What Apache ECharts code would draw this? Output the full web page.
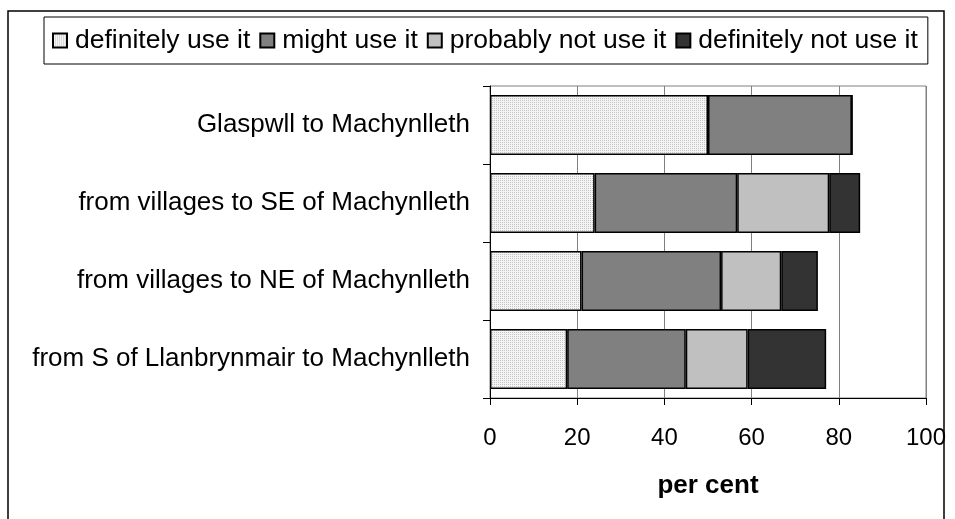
<!DOCTYPE html>
<html>
<head>
<meta charset="utf-8">
<script src="https://cdn.jsdelivr.net/npm/echarts@6/dist/echarts.min.js"></script>
<style>
html,body{margin:0;padding:0;background:#fff;}
#container{width:955px;height:519px;}
</style>
</head>
<body>
<div id="container"></div>
<script>
var routes = ['Glaspwll to Machynlleth', 'from villages to SE of Machynlleth', 'from villages to NE of Machynlleth', 'from S of Llanbrynmair to Machynlleth'];
var seriesNames = ['definitely use it', 'might use it', 'probably not use it', 'definitely not use it'];
var definitelyUse = [50, 24, 21, 17.7];
var mightUse = [33, 32.7, 32, 27.2];
var probablyNot = [0, 21.1, 13.8, 14.2];
var definitelyNot = [0, 7.1, 8.4, 18];
var xTicks = [0, 20, 40, 60, 80, 100];

// small dotted fill like the original print pattern
var pat = document.createElement('canvas');
pat.width = 2; pat.height = 2;
var pc = pat.getContext('2d');
pc.fillStyle = '#f4f4f4'; pc.fillRect(0, 0, 2, 2);
pc.fillStyle = '#c4c4c4'; pc.fillRect(0, 0, 1, 1);

var fills = [{image: pat, repeat: 'repeat'}, '#808080', '#c0c0c0', '#333333'];
var values = [definitelyUse, mightUse, probablyNot, definitelyNot];
var font = '"Liberation Sans", Arial, sans-serif';

var dom = document.getElementById('container');
var myChart = echarts.init(dom);

var series = [];
for (var i = 0; i < seriesNames.length; i++) {
	series.push({
		name: seriesNames[i],
		type: 'bar',
		stack: 'all',
		barCategoryGap: '23%',
		data: values[i],
		itemStyle: {
			color: fills[i],
			borderColor: '#000',
			borderWidth: 1.5
		}
	});
}

var option = {
	animation: false,
	textStyle: {fontFamily: font},
	graphic: [{
		type: 'rect',
		z: -10,
		shape: {x: 8, y: 11, width: 936, height: 600},
		style: {fill: 'none', stroke: '#000', lineWidth: 1.5}
	}],
	legend: {
		left: 44,
		top: 17,
		padding: [10, 10, 10, 8],
		itemWidth: 14,
		itemHeight: 14,
		itemGap: 9,
		icon: 'rect',
		borderColor: '#000',
		borderWidth: 1,
		backgroundColor: '#fff',
		data: seriesNames,
		textStyle: {fontSize: 26.5, color: '#000', fontFamily: font, lineHeight: 26, padding: [0, 0, 0, 3]}
	},
	grid: {
		left: 490,
		right: 29,
		top: 86,
		bottom: 121,
		show: true,
		borderColor: '#808080',
		borderWidth: 1
	},
	xAxis: {
		type: 'value',
		min: xTicks[0],
		max: xTicks[xTicks.length - 1],
		interval: 20,
		name: 'per cent',
		nameLocation: 'middle',
		nameGap: 75,
		nameTextStyle: {fontSize: 26, fontWeight: 'bold', color: '#000', fontFamily: font},
		axisLine: {show: true, lineStyle: {color: '#000', width: 1}},
		axisTick: {show: true, length: 7, lineStyle: {color: '#000'}},
		axisLabel: {fontSize: 24, color: '#000', margin: 28, fontFamily: font},
		splitLine: {show: true, lineStyle: {color: '#808080', width: 1}}
	},
	yAxis: {
		type: 'category',
		inverse: true,
		data: routes,
		axisLine: {show: true, lineStyle: {color: '#000', width: 1}},
		axisTick: {show: true, length: 7, lineStyle: {color: '#000'}},
		axisLabel: {fontSize: 26, color: '#000', margin: 20, fontFamily: font},
		splitLine: {show: false}
	},
	series: series
};
myChart.setOption(option);
</script>
</body>
</html>
